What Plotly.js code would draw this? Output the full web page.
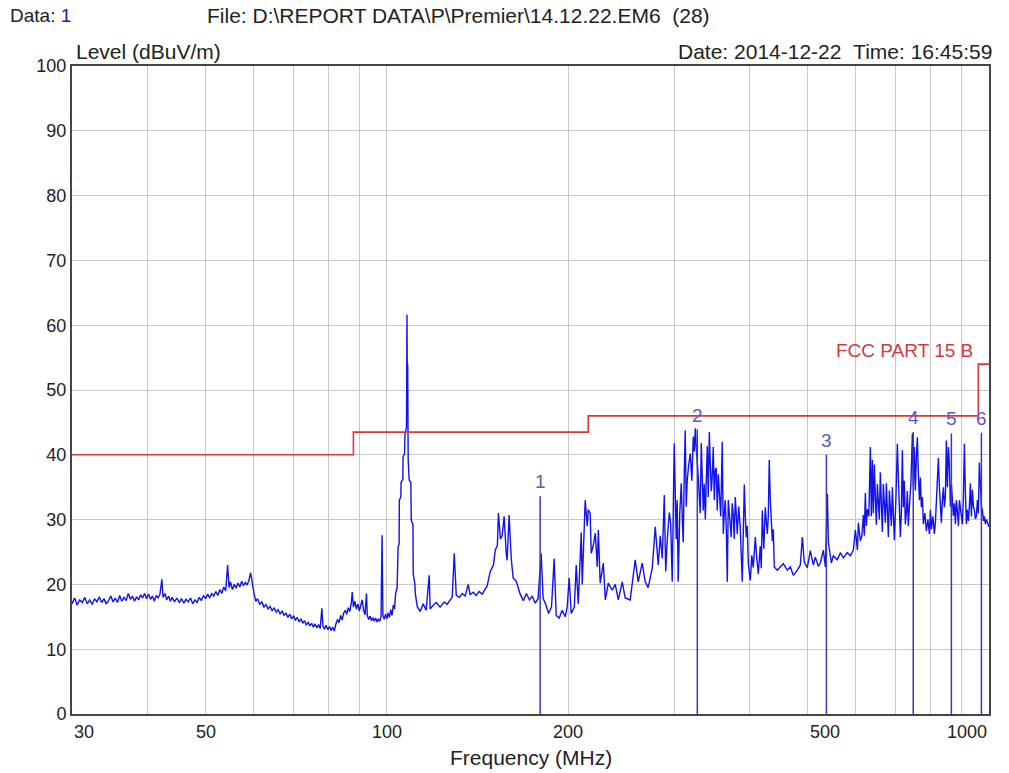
<!DOCTYPE html>
<html>
<head>
<meta charset="utf-8">
<script src="https://cdn.plot.ly/plotly-3.0.1.min.js"></script>
<style>html,body{margin:0;padding:0;background:#fff;}#chart{width:1009px;height:773px;}</style>
</head>
<body>
<div id="chart"></div>
<script>
// ---- scan data (MHz, dBuV/m) ----
const freqMHz = [
30.0,30.3,30.6,30.9,31.2,31.5,31.8,32.1,32.4,32.7,
33.0,33.3,33.6,33.9,34.2,34.5,34.8,35.1,35.4,35.7,
36.0,36.3,36.6,36.9,37.2,37.5,37.8,38.1,38.4,38.7,
39.0,39.3,39.6,39.9,40.2,40.5,40.8,41.1,41.4,41.7,
42.0,42.3,42.5,42.8,43.1,43.4,43.7,44.0,44.4,44.8,
45.2,45.6,46.0,46.4,46.8,47.2,47.6,48.0,48.4,48.8,
49.2,49.6,50.0,50.4,50.8,51.2,51.6,52.0,52.4,52.8,
53.2,53.6,54.0,54.4,54.7,55.0,55.4,55.8,56.2,56.6,
57.0,57.4,57.8,58.2,58.6,59.0,59.4,59.8,60.2,60.6,
61.0,61.5,62.0,62.5,63.0,63.5,64.0,64.5,65.0,65.5,
66.0,66.5,67.0,67.5,68.0,68.5,69.0,69.5,70.0,70.5,
71.0,71.5,72.0,72.5,73.0,73.5,74.0,74.5,75.0,75.5,
76.0,76.5,77.0,77.5,78.0,78.3,78.8,79.3,79.8,80.3,
80.8,81.3,81.8,82.3,82.8,83.3,83.8,84.3,84.8,85.3,
85.8,86.3,86.8,87.3,87.6,88.0,88.5,89.0,89.5,90.0,
90.5,91.0,91.5,92.0,92.5,92.8,93.3,93.8,94.3,94.8,
95.3,95.8,96.3,96.8,97.3,97.8,98.2,98.5,99.0,99.5,
100.0,100.5,101.0,101.5,102.0,102.5,103.0,
103.4,104.0,104.4,104.8,104.9,105.5,105.6,106.3,106.4,107.0,
107.2,107.8,108.0,108.1,108.3,108.5,108.9,109.6,109.8,110.5,
110.6,111.3,111.5,
112.3,113.6,114.9,116.2,117.6,118.0,119.4,120.8,122.6,124.5,
125.9,127.4,128.4,129.4,130.4,131.9,133.4,134.9,136.5,137.5,
139.1,140.7,142.3,144.0,145.6,146.8,148.5,150.3,151.4,152.6,
153.2,154.4,155.4,156.6,157.8,158.4,159.6,160.9,162.1,164.0,
166.5,168.5,170.5,172.5,174.3,176.3,178.3,180.4,181.8,183.5,
185.6,187.7,189.6,191.1,193.3,195.5,197.8,199.3,200.8,202.4,
204.8,206.3,207.9,210.3,211.1,213.5,215.2,216.0,217.6,218.5,
220.2,221.9,223.6,224.5,226.1,228.8,230.6,233.2,236.8,239.5,
242.3,246.0,248.8,253.6,258.5,261.5,265.5,268.6,271.6,275.9,
279.1,282.3,284.5,286.7,288.9,290.5,292.2,294.5,296.0,297.8,
300.1,301.2,302.4,303.5,304.7,306.5,308.3,309.5,310.6,311.8,
313.0,314.2,315.4,317.2,319.1,321.0,322.8,324.0,325.3,326.5,
327.8,329.0,330.3,331.5,332.8,334.0,335.3,336.6,338.0,339.2,
340.5,341.8,343.2,344.5,345.8,347.0,348.4,349.8,351.1,352.4,
353.8,355.2,356.5,358.5,360.6,362.0,363.4,364.8,366.2,367.6,
369.0,371.0,373.2,374.6,376.1,377.5,379.0,380.4,381.9,384.0,
386.3,387.8,389.3,390.8,392.3,393.8,395.3,396.8,398.3,401.4,
403.7,406.0,407.6,409.2,411.5,413.9,417.0,418.6,420.3,422.7,
425.1,428.4,430.0,431.6,433.3,435.0,436.7,438.3,440.0,445.1,
450.2,455.4,462.4,467.8,473.2,480.5,486.0,489.8,493.5,499.2,
505.0,510.8,514.7,520.7,524.7,530.8,534.9,539.0,541.1,547.3,
551.4,559.9,566.4,572.9,581.7,588.5,595.3,599.9,602.2,604.5,
606.9,611.4,615.0,618.5,620.8,623.2,625.6,628.0,631.6,635.3,
637.7,640.2,642.6,645.1,647.5,650.0,652.5,655.0,657.5,660.0,
662.5,665.1,667.6,670.2,672.8,675.4,678.0,680.6,683.2,685.8,
688.4,691.1,693.7,696.4,700.4,704.4,707.1,709.8,712.5,715.2,
718.0,720.7,723.4,726.2,729.0,731.8,734.6,737.4,741.7,746.0,
748.8,751.7,754.6,757.5,760.4,763.3,766.3,769.2,772.1,775.1,
778.1,782.6,787.1,791.6,796.2,799.2,802.2,806.8,811.5,814.6,
817.8,820.9,824.0,827.2,830.4,833.5,836.7,840.0,843.2,846.4,
849.6,852.9,856.2,859.4,862.7,866.1,872.7,876.0,879.4,882.8,
886.2,889.6,893.0,898.1,903.3,906.7,910.2,913.7,917.2,920.7,
924.2,927.7,931.3,934.9,938.5,942.1,945.7,949.3,953.0,956.6,
960.2,963.9,967.6,971.4,975.1,978.8,982.5,986.3,990.1,993.9,1000
];
const levelDb = [
17.0,17.9,16.8,17.6,17.2,18.0,17.0,17.6,16.9,17.8,
17.3,18.1,17.2,17.8,17.0,17.5,18.2,17.3,17.9,17.2,
18.3,17.4,18.0,17.5,18.6,17.7,18.2,17.4,18.1,17.6,
18.4,17.9,18.6,17.8,18.5,17.7,18.2,17.4,18.3,17.9,
18.5,20.8,18.0,18.6,17.6,18.2,17.4,18.0,17.3,17.9,
17.2,17.8,17.1,17.7,17.3,17.9,17.0,17.6,17.2,18.0,
17.5,18.3,17.8,18.5,17.9,18.6,18.2,18.9,18.3,19.2,
18.6,19.6,19.0,23.0,19.5,20.4,19.2,20.0,19.4,20.2,
19.6,20.5,19.8,20.3,19.9,20.6,21.8,20.0,18.5,17.4,
17.8,16.9,17.3,16.5,16.9,16.2,16.6,15.9,16.4,15.7,
16.1,15.4,15.9,15.2,15.6,14.9,15.4,14.7,15.1,14.5,
14.9,14.2,14.7,14.0,14.4,13.7,14.2,13.6,14.0,13.4,
13.9,13.3,13.8,13.2,16.3,13.6,13.1,13.7,13.0,13.5,
12.9,13.4,12.8,13.9,14.6,14.1,15.2,14.5,15.6,16.0,
15.4,16.4,15.8,17.2,18.8,16.5,17.4,16.2,17.0,15.9,
16.8,17.6,16.0,15.3,18.6,15.2,14.6,15.1,14.4,14.9,
14.3,14.8,14.2,14.7,14.3,15.0,27.6,15.2,14.6,15.4,
14.7,15.6,14.9,16.1,15.2,16.8,16.2,
18.6,19.4,25.8,26.2,33.0,33.5,35.8,36.2,39.7,40.1,
43.3,44.2,61.6,54.0,53.9,39.2,36.1,35.8,29.9,29.2,
21.7,20.1,18.6,
16.6,15.8,17.0,16.0,21.4,16.2,16.8,17.2,16.5,17.3,
16.9,17.6,18.0,24.8,18.3,18.0,18.6,18.2,20.0,18.4,
18.8,18.3,18.9,18.5,19.3,19.8,22.0,23.0,25.3,26.0,
31.0,27.0,27.5,30.5,25.0,23.7,30.7,24.0,21.0,20.5,
18.5,17.5,18.6,17.6,18.2,17.1,17.8,24.8,17.8,17.0,
15.5,16.5,24.0,15.2,14.8,16.0,15.0,16.5,21.0,15.5,
16.5,23.0,17.0,28.0,20.0,33.0,29.0,31.5,31.0,24.8,
26.0,27.9,22.7,28.4,20.2,23.3,17.6,20.2,19.1,20.0,
17.6,20.4,17.9,17.6,23.8,20.4,23.3,20.4,19.5,22.5,
28.9,23.0,27.5,24.0,33.8,22.0,26.9,31.1,29.5,20.4,
41.8,30.5,27.0,33.0,20.4,31.0,35.6,30.0,26.5,37.0,
43.8,32.0,36.1,38.5,40.2,36.0,42.8,40.5,44.1,41.0,
39.0,36.5,33.5,31.0,41.8,38.0,31.4,35.5,30.0,36.0,
41.3,33.5,43.5,38.5,34.4,36.5,41.2,33.0,37.6,38.0,
31.4,37.0,34.0,30.5,42.0,27.8,31.0,33.0,28.5,20.4,
33.0,29.5,27.3,32.5,30.7,27.0,33.5,31.0,27.8,32.0,
28.8,24.5,20.4,28.0,35.4,30.5,27.3,29.0,23.3,20.6,
24.5,22.6,25.0,27.3,24.0,21.6,25.9,22.5,31.4,25.5,
31.9,27.8,30.5,39.2,33.0,30.0,26.7,28.5,22.7,22.2,
22.7,23.2,22.2,22.7,21.4,22.2,23.0,27.3,23.4,22.6,
25.2,23.0,24.2,22.8,23.3,25.3,22.7,34.0,26.5,23.3,
24.4,23.8,24.9,24.1,24.9,24.4,25.3,28.4,27.0,25.3,
29.5,26.7,27.5,30.7,27.5,34.1,29.0,31.6,30.5,41.2,
30.5,39.2,31.0,38.5,33.5,29.2,35.5,33.0,30.0,37.3,
31.5,28.1,35.5,33.0,29.5,35.6,31.5,27.3,34.5,31.9,
29.0,35.0,31.0,26.8,33.0,41.7,36.5,33.0,27.3,31.0,
40.7,31.9,36.0,29.3,31.0,34.4,29.0,31.9,35.5,43.3,
35.0,41.2,34.5,39.7,42.7,37.0,33.0,36.5,31.9,33.5,
29.3,31.0,28.2,30.0,27.8,31.5,28.5,30.5,27.8,29.5,
32.5,34.5,39.5,35.0,32.0,29.5,33.0,35.0,31.9,33.5,
42.2,35.0,41.2,38.5,32.0,35.4,30.6,32.5,29.3,33.0,
31.2,29.0,33.0,31.0,29.3,33.5,41.7,34.0,29.3,31.5,
29.8,32.0,35.6,30.5,34.6,32.0,31.5,30.1,30.5,33.0,
31.0,38.8,34.0,32.0,31.5,29.8,30.5,29.3,30.0,29.5,28.9
];

// ---- FCC Part 15 B limit ----
const limitFreq  = [30, 88, 88, 216, 216, 960, 960, 1000];
const limitLevel = [40, 40, 43.5, 43.5, 46, 46, 54, 54];

// ---- peak markers ----
const markerFreq  = [179.7, 327.8, 537.0, 748.5, 866.0, 971.4];
const markerLevel = [33.6, 43.9, 40.0, 43.5, 43.3, 43.4];
const markerLabel = ['1', '2', '3', '4', '5', '6'];

// ---- axes ----
const gridFreq  = [30,40,50,60,70,80,90,100,200,300,400,500,600,700,800,900,1000];
const xTickVals = [30, 50, 100, 200, 500, 1000];
const xTickText = ['30', '50', '100', '200', '500', '1000'];
const xTickAnchor = ['left', 'center', 'center', 'center', 'left', 'right'];
const yTickVals = [0,10,20,30,40,50,60,70,80,90,100];

if (freqMHz.length !== levelDb.length) { throw new Error('length mismatch ' + freqMHz.length + ' ' + levelDb.length); }

const FONT = 'Liberation Sans, Arial, sans-serif';
const TXT = '#222222';

// marker stems
const stemX = [], stemY = [];
markerFreq.forEach((f, i) => { stemX.push(f, f, null); stemY.push(0, markerLevel[i], null); });

const traces = [
  { x: freqMHz, y: levelDb, type: 'scatter', mode: 'lines',
    line: { color: '#1212ea', width: 1.4 }, hoverinfo: 'skip' },
  { x: stemX, y: stemY, type: 'scatter', mode: 'lines',
    line: { color: '#3a3ab2', width: 1.5 }, hoverinfo: 'skip' },
  { x: limitFreq, y: limitLevel, type: 'scatter', mode: 'lines',
    line: { color: '#d43a3a', width: 1.6 }, hoverinfo: 'skip' }
];

const annotations = [];
// header texts
annotations.push({ xref: 'paper', yref: 'paper', x: -0.0698, y: 1.0772, xanchor: 'left', yanchor: 'middle',
  text: 'Data: <span style="color:#2020c0">1</span>', showarrow: false, font: { family: FONT, size: 19, color: TXT } });
annotations.push({ xref: 'paper', yref: 'paper', x: 0.145, y: 1.0772, xanchor: 'left', yanchor: 'middle',
  text: 'File: D:\\REPORT DATA\\P\\Premier\\14.12.22.EM6&nbsp;&nbsp;(28)', showarrow: false, font: { family: FONT, size: 21, color: TXT } });
annotations.push({ xref: 'paper', yref: 'paper', x: 0.0022, y: 1.0231, xanchor: 'left', yanchor: 'middle',
  text: 'Level (dBuV/m)', showarrow: false, font: { family: FONT, size: 21, color: TXT } });
annotations.push({ xref: 'paper', yref: 'paper', x: 1.0055, y: 1.0231, xanchor: 'right', yanchor: 'middle',
  text: 'Date: 2014-12-22&nbsp;&nbsp;Time: 16:45:59', showarrow: false, font: { family: FONT, size: 21, color: TXT } });
annotations.push({ xref: 'paper', yref: 'paper', x: 0.5005, y: -0.0664, xanchor: 'center', yanchor: 'middle',
  text: 'Frequency (MHz)', showarrow: false, font: { family: FONT, size: 21, color: TXT } });
// x tick labels
xTickVals.forEach((v, i) => {
  annotations.push({ xref: 'x', yref: 'paper', x: Math.log10(v), y: -0.0278, xanchor: xTickAnchor[i], yanchor: 'middle',
    text: xTickText[i], showarrow: false, font: { family: FONT, size: 18, color: TXT } });
});
// marker labels
markerFreq.forEach((f, i) => {
  annotations.push({ xref: 'x', yref: 'y', x: Math.log10(f), y: markerLevel[i], xanchor: 'center', yanchor: 'bottom',
    yshift: 2, text: markerLabel[i], showarrow: false, font: { family: FONT, size: 19, color: '#5a5ac4' } });
});
// limit label
annotations.push({ xref: 'x', yref: 'y', x: Math.log10(limitFreq[5]), y: limitLevel[6], xanchor: 'right', yanchor: 'bottom',
  xshift: -3, yshift: 1, text: 'FCC PART 15 B', showarrow: false, font: { family: FONT, size: 19, color: '#d43a3a' } });

const layout = {
  width: 1009, height: 773,
  margin: { l: 72, r: 20, t: 66, b: 59 },
  paper_bgcolor: '#ffffff', plot_bgcolor: '#ffffff',
  showlegend: false,
  font: { family: FONT, color: TXT },
  xaxis: {
    type: 'log', range: [Math.log10(30), 3],
    tickmode: 'array', tickvals: gridFreq, showticklabels: false, ticks: '',
    showgrid: true, gridcolor: '#c8c8c8', gridwidth: 1,
    showline: true, linecolor: '#454545', linewidth: 2, mirror: true, zeroline: false
  },
  yaxis: {
    range: [0, 100], tickmode: 'array', tickvals: yTickVals, ticks: '',
    tickfont: { family: FONT, size: 18, color: TXT },
    showgrid: true, gridcolor: '#c8c8c8', gridwidth: 1,
    showline: true, linecolor: '#454545', linewidth: 2, mirror: true, zeroline: false
  },
  annotations: annotations
};

Plotly.newPlot('chart', traces, layout, { staticPlot: true, displayModeBar: false });
</script>
</body>
</html>
